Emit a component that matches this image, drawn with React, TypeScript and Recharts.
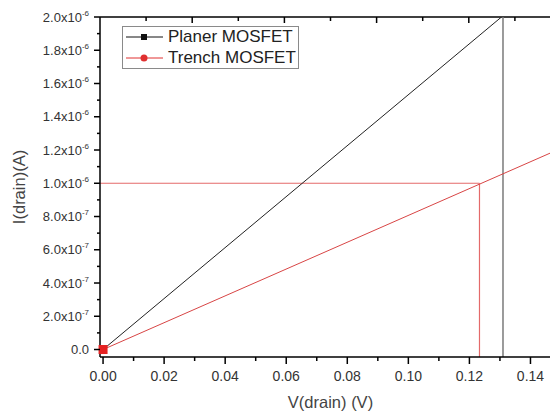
import React from 'react';
import { LineChart, Line, XAxis, YAxis, ReferenceLine, ReferenceDot, Legend } from 'recharts';

// ---- data ----
const seriesNames = ['Planer MOSFET', 'Trench MOSFET'];
const planerV = [0, 0.1305];
const planerI = [0, 2.0e-6];
const trenchV = [0, 0.15];
const trenchI = [0, 1.21e-6];

const markerV = 0.1233; // red guide
const markerI = 1.0e-6;
const planerGuideV = 0.131; // grey guide

const xDomain = [-0.001, 0.15];
const yDomain = [-4.5e-8, 2.0e-6];

const xMajorTicks = [0, 0.02, 0.04, 0.06, 0.08, 0.1, 0.12, 0.14];
const xMinorTicks = [0.01, 0.03, 0.05, 0.07, 0.09, 0.11, 0.13, 0.15];
const xTickLabels = ['0.00', '0.02', '0.04', '0.06', '0.08', '0.10', '0.12', '0.14'];

const yMajorTicks = [0, 2e-7, 4e-7, 6e-7, 8e-7, 1.0e-6, 1.2e-6, 1.4e-6, 1.6e-6, 1.8e-6, 2.0e-6];
const yMinorTicks = [1e-7, 3e-7, 5e-7, 7e-7, 9e-7, 1.1e-6, 1.3e-6, 1.5e-6, 1.7e-6, 1.9e-6];
const yMantissa = ['0.0', '2.0', '4.0', '6.0', '8.0', '1.0', '1.2', '1.4', '1.6', '1.8', '2.0'];
const yExponent = ['', '-7', '-7', '-7', '-7', '-6', '-6', '-6', '-6', '-6', '-6'];

// frame (top / right) ticks: tenths of the frame, even = major
const frameTickSteps = [1, 2, 3, 4, 5, 6, 7, 8, 9];

const planerData = planerV.map((v, k) => ({ v, i: planerI[k] }));
const trenchData = trenchV.map((v, k) => ({ v, i: trenchI[k] }));

const FONT = '"Liberation Sans", Arial, sans-serif';

// plot size in px (for converting tick lengths to data units)
const PLOT_W = 461;
const PLOT_H = 340;
const xSpan = xDomain[1] - xDomain[0];
const ySpan = yDomain[1] - yDomain[0];

const XTick = (props: any) => {
  const { x, y, payload } = props;
  const idx = xMajorTicks.findIndex((t) => Math.abs(t - payload.value) < 1e-9);
  const major = idx >= 0;
  return (
    <g>
      <line x1={x} x2={x} y1={y} y2={y + (major ? 7 : 4)} stroke="#000" strokeWidth={1.5} />
      {major && (
        <text x={x} y={y + 24} textAnchor="middle" fontSize={14} fill="#333" fontFamily={FONT}>
          {xTickLabels[idx]}
        </text>
      )}
    </g>
  );
};

const YTick = (props: any) => {
  const { x, y, payload } = props;
  const idx = yMajorTicks.findIndex((t) => Math.abs(t - payload.value) < 1e-12);
  const major = idx >= 0;
  return (
    <g>
      <line x1={x} x2={x - (major ? 6 : 3)} y1={y} y2={y} stroke="#000" strokeWidth={1.5} />
      {major && (
        <text x={x - 11} y={y + 4.5} textAnchor="end" fontSize={13} fill="#333" fontFamily={FONT}>
          {yExponent[idx] ? yMantissa[idx] + 'x10' : yMantissa[idx]}
          {yExponent[idx] ? (
            <tspan fontSize={8} dy={-6}>{yExponent[idx]}</tspan>
          ) : null}
        </text>
      )}
    </g>
  );
};

const LegendBox = () => {
  const rows = [
    { name: seriesNames[0], color: '#111', marker: 'square' },
    { name: seriesNames[1], color: '#e03030', marker: 'circle' },
  ];
  return (
    <div
      style={{
        width: 177,
        height: 43,
        border: '1px solid #8a8a8a',
        boxSizing: 'border-box',
        background: '#fff',
        fontFamily: FONT,
      }}
    >
      {rows.map((r, k) => (
        <div key={k} style={{ display: 'flex', alignItems: 'center', height: 20, marginTop: k === 0 ? 0 : 1 }}>
          <svg width={45} height={20} style={{ display: 'block' }}>
            <line x1={3} x2={40} y1={10} y2={10} stroke={r.color} strokeWidth={1} />
            {r.marker === 'square' ? (
              <rect x={18} y={7} width={6} height={6} fill={r.color} />
            ) : (
              <circle cx={21} cy={10} r={3.5} fill={r.color} />
            )}
          </svg>
          <span style={{ fontSize: 17, color: '#222', lineHeight: '20px', whiteSpace: 'nowrap' }}>{r.name}</span>
        </div>
      ))}
    </div>
  );
};

export default function App() {
  const topTicks = frameTickSteps.map((k) => {
    const xv = xDomain[0] + (k / 10) * xSpan;
    const len = ((k % 2 === 0 ? 6 : 4) / PLOT_H) * ySpan;
    return (
      <ReferenceLine
        key={'t' + k}
        segment={[
          { x: xv, y: yDomain[1] },
          { x: xv, y: yDomain[1] - len },
        ]}
        stroke="#000"
        strokeWidth={1.5}
        ifOverflow="visible"
      />
    );
  });
  const rightTicks = frameTickSteps.map((k) => {
    const yv = yDomain[0] + (k / 10) * ySpan;
    const len = ((k % 2 === 0 ? 7 : 4) / PLOT_W) * xSpan;
    return (
      <ReferenceLine
        key={'r' + k}
        segment={[
          { x: xDomain[1], y: yv },
          { x: xDomain[1] - len, y: yv },
        ]}
        stroke="#000"
        strokeWidth={1.5}
        ifOverflow="visible"
      />
    );
  });

  return (
    <div style={{ width: 550, height: 406, overflow: 'hidden', position: 'relative' }}>
      <LineChart width={560} height={406} margin={{ top: 9, right: 7, bottom: 0, left: 0 }}>
        <XAxis
          dataKey="v"
          type="number"
          domain={xDomain}
          ticks={[...xMajorTicks, ...xMinorTicks].sort((a, b) => a - b)}
          interval={0}
          allowDataOverflow
          height={57}
          tickSize={0}
          tickMargin={0}
          tickLine={false}
          axisLine={{ stroke: '#000', strokeWidth: 1.5 }}
          tick={XTick}
          label={(p: any) => {
            const vb = p.viewBox || {};
            return (
              <text
                x={vb.x + vb.width / 2}
                y={400}
                textAnchor="middle"
                fontSize={16.5}
                fill="#444"
                fontFamily={FONT}
              >
                V(drain) (V)
              </text>
            );
          }}
        />
        <YAxis
          type="number"
          domain={yDomain}
          ticks={[...yMajorTicks, ...yMinorTicks].sort((a, b) => a - b)}
          interval={0}
          allowDataOverflow
          width={92}
          tickSize={0}
          tickMargin={0}
          tickLine={false}
          axisLine={{ stroke: '#000', strokeWidth: 1.5 }}
          tick={YTick}
          label={(p: any) => {
            const vb = p.viewBox || {};
            const cy = vb.y + vb.height / 2;
            return (
              <text
                x={17}
                y={cy}
                transform={`rotate(-90 17 ${cy})`}
                textAnchor="middle"
                fontSize={16.5}
                fill="#444"
                fontFamily={FONT}
              >
                I(drain)(A)
              </text>
            );
          }}
        />
        {/* frame: top and right edges with inward ticks */}
        <ReferenceLine y={yDomain[1]} stroke="#000" strokeWidth={1.5} ifOverflow="visible" />
        <ReferenceLine x={xDomain[1]} stroke="#000" strokeWidth={1.5} ifOverflow="visible" />
        {topTicks}
        {rightTicks}
        <ReferenceLine
          segment={[
            { x: xDomain[0], y: markerI },
            { x: markerV, y: markerI },
          ]}
          stroke="#e46a6a"
          strokeWidth={1.2}
          ifOverflow="visible"
        />
        <ReferenceLine
          segment={[
            { x: markerV, y: yDomain[0] },
            { x: markerV, y: markerI },
          ]}
          stroke="#e46a6a"
          strokeWidth={1.2}
          ifOverflow="visible"
        />
        <ReferenceLine x={planerGuideV} stroke="#7a7a7a" strokeWidth={1.5} />
        <Line
          data={planerData}
          dataKey="i"
          stroke="#222"
          strokeWidth={1}
          dot={false}
          isAnimationActive={false}
          name={seriesNames[0]}
        />
        <Line
          data={trenchData}
          dataKey="i"
          stroke="#d84545"
          strokeWidth={1}
          dot={false}
          isAnimationActive={false}
          name={seriesNames[1]}
        />
        <ReferenceDot
          x={0}
          y={0}
          shape={(p: any) => <rect x={p.cx - 4.5} y={p.cy - 4.5} width={9} height={9} fill="#e52222" />}
        />
        <Legend
          layout="vertical"
          align="center"
          verticalAlign="middle"
          content={() => <LegendBox />}
          wrapperStyle={{ left: 114, top: 18, width: 177, height: 43 }}
        />
      </LineChart>
    </div>
  );
}
